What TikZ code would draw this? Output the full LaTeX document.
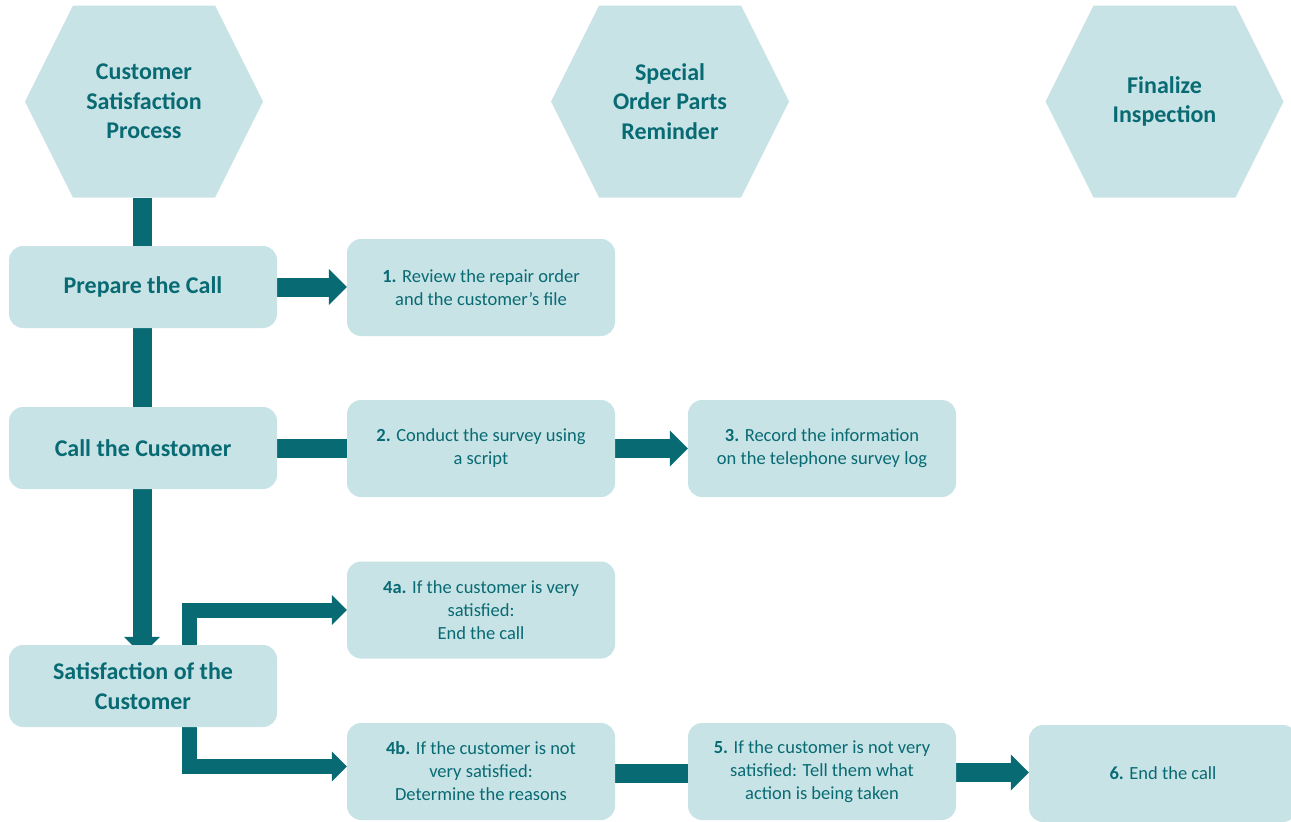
\documentclass[tikz,border=0pt]{standalone}
\usepackage{fontspec}
\setmainfont{Carlito}
\usetikzlibrary{arrows.meta,calc}
\definecolor{flowdark}{RGB}{8,106,115}
\definecolor{flowfill}{RGB}{200,227,230}
\pgfdeclarelayer{bg}
\pgfsetlayers{bg,main}
\begin{document}
\begin{tikzpicture}[x=1pt,y=-1pt,
  box/.style={fill=flowfill, rounded corners=14pt, minimum width=268pt,
    text=flowdark, align=center, inner sep=0pt},
  stage/.style={box, minimum height=82pt,
    font=\bfseries\fontsize{24}{29.5}\selectfont},
  task/.style={box, minimum height=97pt,
    font=\fontsize{18.5}{23}\selectfont},
  hexlabel/.style={text=flowdark, align=center,
    font=\bfseries\fontsize{24}{29.5}\selectfont},
  bar/.style={draw=flowdark, line width=19pt},
  thinbar/.style={draw=flowdark, line width=15pt},
  bigtip/.style={-{Triangle[width=36pt,length=18pt,line width=0pt]}},
  thintip/.style={-{Triangle[width=30pt,length=15pt,line width=0pt]}}
]
\useasboundingbox (0,0) rectangle (1291,822);

% phase headings
\node[hexlabel] (h1) at (144,101.5) {Customer\\Satisfaction\\Process};
\node[hexlabel] (h2) at (670,101.5) {Special\\Order Parts\\Reminder};
\node[hexlabel] (h3) at (1164.5,101.5) {Finalize\\Inspection};

% stages
\node[stage] (prep) at (143,287) {Prepare the Call};
\node[stage] (call) at (143,448) {Call the Customer};
\node[stage] (sat)  at (143,686) {Satisfaction of the\\Customer};

% tasks
\node[task] (s1)  at (481,287.5) {\textbf{1.} Review the repair order\\and the customer’s file};
\node[task] (s2)  at (481,448.5) {\textbf{2.} Conduct the survey using\\a script};
\node[task] (s3)  at (822,448.5) {\textbf{3.} Record the information\\on the telephone survey log};
\node[task] (s4a) at (481,610) {\textbf{4a.} If the customer is very\\satisfied:\\End the call};
\node[task] (s4b) at (481,771.5) {\textbf{4b.} If the customer is not\\very satisfied:\\Determine the reasons};
\node[task] (s5)  at (822,771.5) {\textbf{5.} If the customer is not very\\satisfied: Tell them what\\action is being taken};
\node[task] (s6)  at (1163,773.5) {\textbf{6.} End the call};

\begin{pgfonlayer}{bg}
  % hexagon outlines around the headings
  \foreach \h in {h1,h2,h3}
    \fill[flowfill] (\h.center) ++(-119,0) -- ++(48,-96) -- ++(142,0)
      -- ++(48,96) -- ++(-48,96) -- ++(-142,0) -- cycle;

  % main spine
  \coordinate (hexfoot) at ($(h1.center)+(-2,96)$);
  \draw[bar] (hexfoot) -- (hexfoot |- prep.north);
  \draw[bar] (prep.south -| hexfoot) -- (call.north -| hexfoot);
  \draw[bar,bigtip] (call.south -| hexfoot) -- ($(sat.north -| hexfoot)+(0,10)$);

  % side flows
  \draw[bar,bigtip] (prep.east) -- (s1.west |- prep.east);
  \draw[bar] (call.east) -- (s2.west |- call.east);
  \draw[bar,bigtip] (s2.east) -- (s3.west);
  \draw[thinbar,thintip] ($(sat.north)+(46.5,0)$) |- (s4a.west);
  \draw[thinbar,thintip] ($(sat.south)+(46.5,0)$) |- ($(s4b.west)+(0,-5)$);
  \draw[bar] ($(s4b.east)+(0,2)$) -- ($(s5.west)+(0,2)$);
  \draw[bar,bigtip] ($(s5.east)+(0,1)$) -- ($(s5.east -| s6.west)+(0,1)$);
\end{pgfonlayer}
\end{tikzpicture}
\end{document}
